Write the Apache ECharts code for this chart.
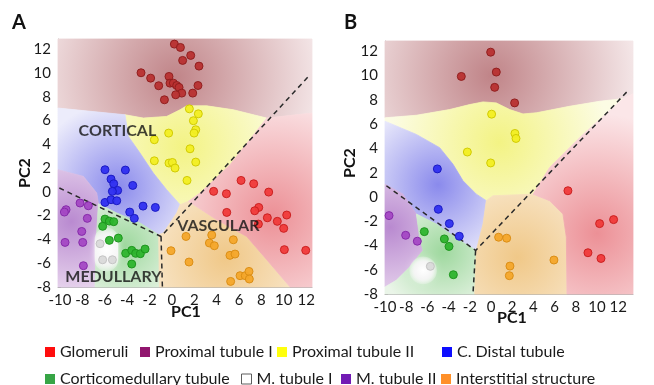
<!DOCTYPE html>
<html>
<head>
<meta charset="utf-8">
<script src="https://cdn.jsdelivr.net/npm/echarts@6/dist/echarts.min.js"></script>
<style>
  html, body { margin: 0; padding: 0; background: #fff; }
  #chart { width: 654px; height: 385px; }
</style>
</head>
<body>
<div id="chart"></div>
<script>
// ---- data ----
const xTicks = [-10, -8, -6, -4, -2, 0, 2, 4, 6, 8, 10, 12];
const yTicks = [-8, -6, -4, -2, 0, 2, 4, 6, 8, 10, 12];

const cellTypes = ['Glomeruli', 'Proximal tubule I', 'Proximal tubule II', 'C. Distal tubule',
  'Corticomedullary tubule', 'M. tubule I', 'M. tubule II', 'Interstitial structure'];

// panel A points
const glomeruliA = [[6.18,0.96],[7.31,0.68],[8.65,-0.02],[3.73,0.04],[4.87,-0.16],[7.76,-1.31],[7.40,-1.59],[4.90,-1.73],
  [8.53,-2.18],[10.26,-1.95],[9.42,-2.48],[9.99,-3.07],[7.73,-2.71],[10.05,-4.86],[11.96,-4.92]];
const proxIA = [[0.22,12.42],[0.76,12.14],[1.68,11.47],[0.96,11.05],[2.42,10.57],[-2.76,10.01],[-1.90,9.56],[-0.26,9.70],
  [-1.18,8.92],[-0.17,9.14],[0.13,9.14],[0.43,8.94],[0.64,8.78],[0.88,8.30],[0.34,8.16],[-0.67,7.74],[1.86,8.30],[2.33,8.94]];
const proxIIA = [[1.56,6.98],[2.36,6.56],[1.92,5.98],[2.13,5.22],[1.98,4.94],[-0.29,4.94],[-1.57,4.38],[1.62,3.62],
  [-1.57,2.61],[-0.26,2.42],[0.04,2.47],[0.28,2.00],[2.13,2.50],[1.35,0.96]];
const distalA = [[-5.98,1.86],[-4.16,1.83],[-5.44,1.07],[-5.20,0.68],[-4.85,0.12],[-5.32,0.04],[-3.50,0.54],[-5.98,-0.89],
  [-5.44,-0.66],[-4.93,-0.75],[-2.58,-1.20],[-1.48,-1.31],[-3.77,-1.70],[-3.36,-2.23]];
const corticoA = [[-5.98,-2.29],[-5.59,-2.46],[-5.20,-2.51],[-6.19,-2.90],[-5.59,-4.08],[-4.79,-3.89],[-4.13,-5.17],
  [-3.59,-4.92],[-3.24,-5.17],[-2.82,-5.20],[-2.40,-4.81],[-3.59,-6.07]];
const mTubIA = [[-6.42,-4.36],[-6.19,-5.71],[-5.32,-5.71]];
const mTubIIA = [[-9.46,-1.50],[-9.61,-1.70],[-8.21,-0.94],[-7.47,-1.17],[-7.56,-2.23],[-8.06,-3.33],[-9.55,-4.25],
  [-7.97,-4.25],[-7.91,-6.21]];
const interstitialA = [[-0.08,-4.95],[1.26,-3.75],[1.53,-5.90],[3.35,-4.30],[3.56,-3.63],[3.79,-4.53],[5.49,-4.03],
  [5.19,-5.34],[5.64,-5.23],[5.25,-7.53],[6.09,-7.05],[6.56,-7.05],[6.89,-6.69],[6.92,-7.33]];

// panel B points
const glomeruliB = [[7.26,0.51],[10.25,-2.20],[11.57,-1.87],[9.15,-4.60],[10.38,-5.07]];
const proxIB = [[-0.03,11.93],[0.50,10.29],[0.35,9.03],[-2.80,9.93],[2.23,7.75]];
const proxIIB = [[0.06,6.82],[2.26,5.23],[2.36,4.82],[-2.23,3.70],[-0.03,2.80]];
const distalB = [[-5.06,2.31],[-4.97,-1.02],[-3.93,-2.20],[-2.99,-3.24]];
const corticoB = [[-6.29,-2.86],[-4.40,-3.46],[-3.96,-4.08],[-3.55,-6.41]];
const mTubIB = [[-5.72,-5.72]];
const mTubIIB = [[-9.62,-1.54],[-8.05,-3.16],[-6.95,-3.65]];
const interstitialB = [[0.72,-3.32],[1.48,-3.40],[1.79,-5.70],[1.73,-6.49],[5.94,-5.20]];

const pointsA = [glomeruliA, proxIA, proxIIA, distalA, corticoA, mTubIA, mTubIIA, interstitialA];
const pointsB = [glomeruliB, proxIB, proxIIB, distalB, corticoB, mTubIB, mTubIIB, interstitialB];

// dashed decision lines
const dashA = [[[-10.06,0.32],[-0.97,-3.75],[12.34,9.84]], [[-0.97,-3.75],[-0.85,-8]]];
const dashB = [[[-9.87,0.92],[-1.45,-4.41],[13.02,8.84]], [[-1.45,-4.41],[-1.70,-8]]];

// region labels (panel A)
const zoneNames = ['CORTICAL', 'VASCULAR', 'MEDULLARY'];
const zoneAt = [[-4.87,5.13], [4.15,-2.90], [-5.23,-7.16]];

// background zones: outline polygons
const topPolyA = [[-10.18,12.85],[12.52,12.85],[12.52,6.62],[8.47,6.20],[5.49,6.90],[3.11,7.23],[1.32,7.23],[0.73,6.90],
  [-0.47,6.34],[-2.55,6.20],[-4.19,6.48],[-10.18,7.04]];
const yellowPolyA = [[-4.19,6.48],[-2.55,6.20],[-0.47,6.34],[0.73,6.90],[1.32,7.23],[3.11,7.23],[5.49,6.90],[8.47,6.20],
  [5.19,2.28],[2.51,-0.10],[1.47,-0.80],[0.73,-1.08],[-0.47,0.18],[-1.66,1.58],[-2.85,3.26],[-3.89,4.66]];
const bluePolyA = [[-10.18,7.04],[-4.19,6.48],[-3.89,4.66],[-2.85,3.26],[-1.66,1.58],[-0.47,0.18],[0.73,-1.08],[0.43,-1.78],
  [-0.76,-3.46],[-1.18,-3.60],[-2.85,-2.62],[-4.93,-1.78],[-6.57,-1.00],[-6.72,-0.10],[-7.91,1.30],[-10.18,1.86]];
const purplePolyA = [[-10.18,1.86],[-7.91,1.30],[-6.72,-0.10],[-6.57,-1.00],[-6.72,-3.46],[-6.87,-8],[-10.18,-8]];
const greenPolyA = [[-6.57,-1.00],[-4.93,-1.78],[-2.85,-2.62],[-1.18,-3.60],[-1.12,-8],[-6.87,-8],[-6.72,-3.46]];
const orangePolyA = [[-1.12,-8],[-1.18,-3.60],[-0.76,-3.46],[0.43,-1.78],[0.73,-1.08],[1.47,-0.80],[4.00,-2.34],
  [6.68,-3.75],[8.47,-5.70],[10.56,-8]];
const redPolyA = [[12.52,6.62],[12.52,-8],[10.56,-8],[8.47,-5.70],[6.68,-3.75],[4.00,-2.34],[1.47,-0.80],[2.51,-0.10],
  [5.19,2.28],[8.47,6.20]];
const whiteBoxA = [[-6.9,-3.0],[-4.8,-6.7]];

const topPolyB = [[-10,12.85],[13.4,12.85],[13.4,8.5],[12.45,8.10],[10.25,7.88],[7.42,7.47],[4.28,6.93],[3.02,6.84],
  [1.76,7.20],[0.50,7.75],[-0.75,7.83],[-2.01,7.61],[-3.90,7.20],[-7.04,6.73],[-10,6.52]];
const yellowPolyB = [[-10,6.52],[-7.04,6.73],[-3.90,7.20],[-2.01,7.61],[-0.75,7.83],[0.50,7.75],[1.76,7.20],[3.02,6.84],
  [4.28,6.93],[7.42,7.47],[10.25,7.88],[12.45,8.10],[8.68,5.15],[5.53,2.42],[3.96,0.23],[0.19,0.10],[-0.44,-0.31],
  [-1.38,0.23],[-2.64,1.33],[-3.58,2.69],[-4.84,4.06],[-7.04,5.15],[-10,6.24]];
const bluePolyB = [[-10,6.24],[-7.04,5.15],[-4.84,4.06],[-3.58,2.69],[-2.64,1.33],[-1.38,0.23],[-0.44,-0.31],[-0.75,-2.23],
  [-1.07,-3.32],[-1.38,-4.41],[-2.96,-3.59],[-5.16,-2.23],[-7.04,-1.41],[-8.30,0.23],[-10,1.05]];
const purplePolyB = [[-10,1.05],[-8.30,0.23],[-7.04,-1.41],[-6.73,-3.32],[-6.42,-4.41],[-7.67,-5.78],[-8.93,-6.87],[-10,-7.42]];
const greenPolyB = [[-7.04,-1.41],[-5.16,-2.23],[-2.96,-3.59],[-1.38,-4.41],[-1.54,-8],[-10,-8],[-10,-7.42],[-8.93,-6.87],
  [-7.67,-5.78],[-6.42,-4.41],[-6.73,-3.32]];
const orangePolyB = [[-1.38,-4.41],[-1.07,-3.32],[-0.75,-2.23],[-0.44,-0.31],[0.19,0.10],[3.96,0.23],[5.53,-0.31],
  [6.79,-1.41],[7.11,-3.32],[7.17,-8],[-1.54,-8]];
const redPolyB = [[13.4,8.5],[13.4,-8],[7.17,-8],[7.11,-3.32],[6.79,-1.41],[5.53,-0.31],[3.96,0.23],[5.53,2.42],[8.68,5.15],
  [12.45,8.10]];
const whiteBoxB = [[-7.7,-4.9],[-5.1,-7.2]];

// zone shading centres (darkest spot of each zone)
const zoneCentreA = [[0.3,9.6],[1.0,3.8],[-4.8,0.4],[-9.0,-2.5],[-4.2,-4.5],[4.8,-5.5],[9.0,-2.0]];
const zoneCentreB = [[0.0,10.0],[0.8,4.5],[-5.0,1.0],[-9.5,-2.5],[-4.5,-4.5],[2.5,-5.0],[10.0,-3.0]];

// ---- styles ----
const FONT = 'Lato, "Open Sans", sans-serif';
const legendColors = ['#ff0000', '#8b0a66', '#ffff00', '#0000ff', '#2ca03c', '#ffffff', '#6a0fb0', '#ff8a1e'];
const pointColors = ['#f03a3a', '#b83030', '#f2ee22', '#2f2ff0', '#2db42d', '#d9d9d9', '#a448c4', '#f4a62a'];
const pointBorders = ['#c81e1e', '#8e1c1c', '#cfc800', '#1818c0', '#1b921b', '#c2c2c2', '#8428a8', '#d98c14'];
const zoneInner = ['#c08488', '#f3f384', '#8a8aec', '#b98ad0', '#9ed89e', '#f0c888', '#ec9096'];
const zoneOuter = ['#f6eaeb', '#fcfce4', '#ececfb', '#f1e4f3', '#eaf5e8', '#fbf0e0', '#fbe6e8'];
const zoneRadius = [150, 110, 85, 85, 65, 110, 120];
const legendPos = [[40,339],[135,339],[272,339],[437,339],[40,366],[236,366],[336,366],[436,366]];

const zonesA = [topPolyA, yellowPolyA, bluePolyA, purplePolyA, greenPolyA, orangePolyA, redPolyA];
const zonesB = [topPolyB, yellowPolyB, bluePolyB, purplePolyB, greenPolyB, orangePolyB, redPolyB];

function zoneSeries(polys, centres, whiteBox, idx) {
  return {
    type: 'custom', xAxisIndex: idx, yAxisIndex: idx, silent: true, z: 1,
    data: polys.map((p, i) => centres[i]).concat([whiteBox[0]]),
    renderItem: function (params, api) {
      const i = params.dataIndex;
      if (i === polys.length) {
        const a = api.coord(whiteBox[0]), b = api.coord(whiteBox[1]);
        const w = b[0] - a[0], h = b[1] - a[1];
        return {
          type: 'rect',
          shape: { x: a[0], y: a[1], width: w, height: h, r: w / 2 },
          style: {
            fill: new echarts.graphic.RadialGradient(a[0] + w / 2, a[1] + h / 2, Math.max(w, h) / 2,
              [{ offset: 0, color: '#ffffff' }, { offset: 0.6, color: '#f5f5f5' }, { offset: 1, color: 'rgba(240,245,240,0.3)' }], true),
            shadowBlur: 6, shadowColor: 'rgba(255,255,255,0.8)'
          }
        };
      }
      const pts = polys[i].map(p => api.coord(p));
      const c = api.coord(centres[i]);
      const grad = new echarts.graphic.RadialGradient(c[0], c[1], zoneRadius[i],
        [{ offset: 0, color: zoneInner[i] }, { offset: 1, color: zoneOuter[i] }], true);
      return {
        type: 'polygon',
        shape: { points: pts },
        style: { fill: grad, stroke: grad, lineWidth: 0.8 }
      };
    }
  };
}

function dashSeries(lines, idx) {
  return lines.map(l => ({
    type: 'line', xAxisIndex: idx, yAxisIndex: idx, data: l, symbol: 'none', silent: true, z: 3,
    lineStyle: { color: '#2a2a2a', width: 1.5, type: [5, 4] }
  }));
}

function axisPair(idx, xr, yr) {
  const lbl = { fontFamily: FONT, fontSize: 15, color: '#1a1a1a' };
  return {
    x: {
      type: 'value', gridIndex: idx, min: xr[0], max: xr[1],
      axisLine: { onZero: false, lineStyle: { color: '#b0b0b0' } },
      axisTick: { customValues: xTicks, inside: true, length: 3, lineStyle: { color: '#999' } },
      axisLabel: Object.assign({ customValues: xTicks, margin: 6 }, lbl),
      splitLine: { show: false }
    },
    y: {
      type: 'value', gridIndex: idx, min: yr[0], max: yr[1],
      axisLine: { onZero: false, lineStyle: { color: '#b0b0b0' } },
      axisTick: { customValues: yTicks, inside: true, length: 3, lineStyle: { color: '#999' } },
      axisLabel: Object.assign({ customValues: yTicks, margin: 7 }, lbl),
      splitLine: { show: false }
    }
  };
}

const axA = axisPair(0, [-10.18, 12.52], [-8, 12.85]);
const axB = axisPair(1, [-10, 13.4], [-8, 12.85]);

let series = [];
series.push(zoneSeries(zonesA, zoneCentreA, whiteBoxA, 0));
series.push(zoneSeries(zonesB, zoneCentreB, whiteBoxB, 1));
series = series.concat(dashSeries(dashA, 0), dashSeries(dashB, 1));
cellTypes.forEach((name, i) => {
  [pointsA, pointsB].forEach((pts, p) => {
    series.push({
      type: 'scatter', name: name, xAxisIndex: p, yAxisIndex: p, data: pts[i], z: 5,
      symbolSize: 8,
      itemStyle: { color: pointColors[i], borderColor: pointBorders[i], borderWidth: 1, opacity: 0.95 }
    });
  });
});
series.push({
  type: 'scatter', xAxisIndex: 0, yAxisIndex: 0, symbolSize: 0, z: 6, silent: true,
  data: zoneNames.map((n, i) => ({ name: n, value: zoneAt[i] })),
  label: { show: true, position: 'inside', formatter: p => p.name, fontFamily: FONT, fontWeight: 'bold', fontSize: 16, color: '#111' }
});

const legends = cellTypes.map((name, i) => ({
  left: legendPos[i][0], top: legendPos[i][1], selectedMode: false,
  itemWidth: 10, itemHeight: 10, itemGap: 0,
  textStyle: { fontFamily: FONT, fontSize: 16, color: '#1a1a1a' },
  data: [{ name: name, icon: 'rect',
    itemStyle: { color: legendColors[i], borderColor: i === 5 ? '#555' : legendColors[i], borderWidth: i === 5 ? 1 : 0 } }]
}));

const chart = echarts.init(document.getElementById('chart'), null, { renderer: 'canvas' });
chart.setOption({
  animation: false,
  backgroundColor: '#fff',
  grid: [
    { left: 58, top: 39, width: 254, height: 248 },
    { left: 385, top: 41, width: 248, height: 253 }
  ],
  xAxis: [axA.x, axB.x],
  yAxis: [axA.y, axB.y],
  legend: legends,
  graphic: [
    { type: 'text', left: 12, top: 13, style: { text: 'A', font: 'bold 20px ' + FONT, fill: '#111' } },
    { type: 'text', left: 344, top: 13, style: { text: 'B', font: 'bold 20px ' + FONT, fill: '#111' } },
    { type: 'text', x: 25, y: 173, rotation: Math.PI / 2, style: { text: 'PC2', font: 'bold 16px ' + FONT, fill: '#111', align: 'center', verticalAlign: 'middle' } },
    { type: 'text', x: 350, y: 163, rotation: Math.PI / 2, style: { text: 'PC2', font: 'bold 16px ' + FONT, fill: '#111', align: 'center', verticalAlign: 'middle' } },
    { type: 'text', x: 186, y: 312, style: { text: 'PC1', font: 'bold 16px ' + FONT, fill: '#111', align: 'center', verticalAlign: 'middle' } },
    { type: 'text', x: 512, y: 318, style: { text: 'PC1', font: 'bold 16px ' + FONT, fill: '#111', align: 'center', verticalAlign: 'middle' } }
  ],
  series: series
});
</script>
</body>
</html>
